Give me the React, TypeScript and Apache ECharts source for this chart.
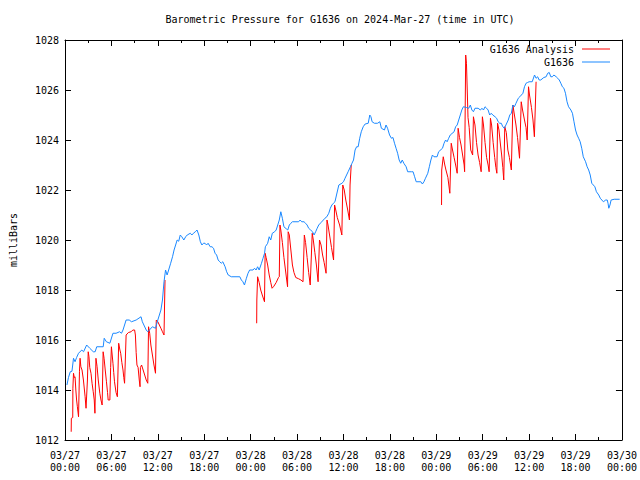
import React, { useEffect, useRef } from "react";
import * as echarts from "echarts";

const titleText = "Barometric Pressure for G1636 on 2024-Mar-27 (time in UTC)";
const yAxisName = "milliBars";
const analysisName = "G1636 Analysis";
const obsName = "G1636";

// x in hours since 2024-03-27 00:00 UTC
const xTickLabels = [
  "03/27\n00:00", "03/27\n06:00", "03/27\n12:00", "03/27\n18:00",
  "03/28\n00:00", "03/28\n06:00", "03/28\n12:00", "03/28\n18:00",
  "03/29\n00:00", "03/29\n06:00", "03/29\n12:00", "03/29\n18:00",
  "03/30\n00:00",
];
const yTickValues = [1012, 1014, 1016, 1018, 1020, 1022, 1024, 1026, 1028];

const observed: [number, number][] = [
  [0.25, 1014.2], [0.45, 1014.5], [0.68, 1014.73], [0.9, 1014.75], [1.1, 1015.27], [1.3, 1015.13],
  [1.5, 1015.3], [1.75, 1015.47], [2.17, 1015.6], [2.4, 1015.53], [2.8, 1015.8], [3.2, 1015.67],
  [3.66, 1015.53], [3.9, 1015.53], [4.1, 1015.73], [4.94, 1015.73], [5.07, 1016.07], [5.35, 1015.93],
  [5.8, 1015.87], [6.2, 1016.27], [6.6, 1016.27], [7.06, 1016.33], [7.3, 1016.27], [7.5, 1016.4],
  [7.9, 1016.8], [8.3, 1016.8], [8.6, 1016.73], [9.2, 1016.8], [9.83, 1016.93], [10.0, 1016.73],
  [10.5, 1016.4], [10.7, 1016.33], [11.3, 1016.53], [11.7, 1016.47], [12.0, 1016.8], [12.4, 1017.2],
  [12.6, 1017.6], [12.8, 1018.33], [13.0, 1018.8], [13.2, 1018.6], [13.4, 1018.8], [13.66, 1019.07],
  [13.9, 1019.33], [14.1, 1019.6], [14.3, 1019.8], [14.5, 1020.0], [14.7, 1019.95], [14.9, 1020.2],
  [15.1, 1020.13], [15.36, 1020.0], [15.6, 1020.13], [15.8, 1020.2], [16.2, 1020.27], [16.4, 1020.2],
  [16.6, 1020.27], [16.85, 1020.33], [17.07, 1020.4], [17.3, 1020.2], [17.5, 1019.93], [17.7, 1019.8],
  [17.9, 1019.87], [18.1, 1019.87], [18.3, 1019.8], [18.5, 1019.87], [18.77, 1019.73], [19.0, 1019.73],
  [19.2, 1019.67], [19.4, 1019.47], [19.6, 1019.4], [19.8, 1019.2], [20.0, 1019.13], [20.2, 1019.07],
  [20.4, 1019.13], [20.7, 1018.93], [20.9, 1018.73], [21.1, 1018.6], [21.5, 1018.53], [22.6, 1018.53],
  [22.8, 1018.4], [23.0, 1018.33], [23.2, 1018.2], [23.45, 1018.47], [23.66, 1018.67], [23.87, 1018.8],
  [24.3, 1018.8], [24.5, 1018.87], [24.7, 1018.8], [24.9, 1018.93], [25.1, 1018.8], [25.4, 1019.07],
  [25.6, 1019.27], [25.8, 1019.47], [25.9, 1019.73], [26.2, 1019.87], [26.4, 1020.13], [26.6, 1020.0],
  [26.8, 1020.27], [27.1, 1020.33], [27.3, 1020.4], [27.5, 1020.6], [27.7, 1020.8], [27.9, 1021.13],
  [28.1, 1020.87], [28.3, 1020.53], [28.6, 1020.45], [28.8, 1020.4], [29.0, 1020.6], [29.2, 1020.67],
  [29.4, 1020.73], [30.0, 1020.73], [30.2, 1020.73], [30.4, 1020.8], [30.6, 1020.73], [30.9, 1020.73],
  [31.1, 1020.67], [31.3, 1020.6], [31.5, 1020.47], [31.75, 1020.4], [32.0, 1020.33], [32.2, 1020.2],
  [32.4, 1020.33], [32.6, 1020.47], [32.8, 1020.6], [33.1, 1020.7], [33.4, 1020.8], [33.6, 1020.87],
  [33.85, 1020.93], [34.1, 1021.07], [34.3, 1021.27], [34.5, 1021.4], [34.7, 1021.47], [34.9, 1021.53],
  [35.1, 1021.8], [35.4, 1022.2], [35.8, 1022.27], [36.0, 1022.33], [36.2, 1022.47], [36.4, 1022.6],
  [36.6, 1022.73], [36.9, 1022.93], [37.1, 1023.07], [37.3, 1023.2], [37.5, 1023.6], [37.7, 1023.73],
  [37.9, 1023.73], [38.1, 1024.07], [38.3, 1024.33], [38.55, 1024.53], [38.8, 1024.64], [39.2, 1024.67],
  [39.4, 1025.0], [39.55, 1024.93], [39.7, 1024.73], [40.0, 1024.67], [40.4, 1024.67], [40.7, 1024.73],
  [40.9, 1024.47], [41.3, 1024.4], [41.5, 1024.6], [41.7, 1024.47], [41.96, 1024.2], [42.2, 1024.07],
  [42.4, 1024.1], [42.6, 1023.87], [42.8, 1023.67], [43.0, 1023.47], [43.2, 1023.2], [43.4, 1023.07],
  [43.6, 1023.2], [43.8, 1023.07], [44.1, 1022.93], [44.3, 1022.73], [44.8, 1022.73], [45.0, 1022.73],
  [45.2, 1022.53], [45.4, 1022.33], [46.0, 1022.33], [46.2, 1022.24], [46.4, 1022.33], [46.6, 1022.47],
  [46.9, 1022.67], [47.1, 1022.93], [47.3, 1023.2], [47.5, 1023.4], [47.7, 1023.33], [48.1, 1023.33],
  [48.3, 1023.53], [48.8, 1023.67], [49.0, 1023.87], [49.2, 1024.0], [49.4, 1023.93], [49.6, 1024.07],
  [49.8, 1024.2], [50.3, 1024.33], [50.5, 1024.53], [50.7, 1024.6], [50.9, 1024.8], [51.1, 1025.0],
  [51.3, 1025.2], [51.5, 1025.33], [51.9, 1025.3], [52.2, 1025.27], [52.4, 1025.4], [52.6, 1025.2],
  [52.8, 1025.13], [53.0, 1025.27], [53.4, 1025.27], [53.7, 1025.2], [53.9, 1025.27], [54.1, 1025.2],
  [54.3, 1025.33], [54.5, 1025.27], [54.7, 1025.2], [54.9, 1025.0], [55.1, 1025.07], [55.3, 1025.0],
  [55.6, 1024.93], [55.8, 1024.87], [56.0, 1024.73], [56.2, 1024.67], [56.4, 1024.67], [56.6, 1024.53],
  [56.8, 1024.47], [57.0, 1024.6], [57.3, 1024.8], [57.5, 1025.0], [57.7, 1025.07], [57.9, 1025.4],
  [58.1, 1025.33], [58.3, 1025.47], [58.6, 1025.67], [58.8, 1025.73], [59.0, 1025.8], [59.2, 1025.87],
  [59.4, 1026.13], [59.6, 1026.27], [59.8, 1026.3], [60.0, 1026.33], [60.4, 1026.33], [60.7, 1026.6],
  [60.9, 1026.47], [61.1, 1026.53], [61.3, 1026.4], [61.5, 1026.4], [61.9, 1026.5], [62.2, 1026.53],
  [62.4, 1026.67], [62.6, 1026.7], [62.8, 1026.53], [63.0, 1026.53], [63.2, 1026.6], [63.5, 1026.53],
  [63.7, 1026.47], [63.9, 1026.4], [64.1, 1026.27], [64.3, 1026.13], [64.5, 1026.07], [64.7, 1025.87],
  [64.9, 1025.53], [65.1, 1025.33], [65.4, 1025.2], [65.6, 1025.07], [65.8, 1024.73], [66.0, 1024.4],
  [66.2, 1024.2], [66.4, 1024.07], [66.6, 1023.93], [66.8, 1023.67], [67.0, 1023.33], [67.3, 1023.13],
  [67.5, 1022.93], [67.7, 1022.8], [67.9, 1022.6], [68.1, 1022.27], [68.3, 1022.2], [68.5, 1022.13],
  [68.7, 1021.93], [69.0, 1021.8], [69.2, 1021.67], [69.4, 1021.6], [69.6, 1021.53], [69.9, 1021.6],
  [70.1, 1021.6], [70.2, 1021.47], [70.3, 1021.27], [70.45, 1021.4], [70.6, 1021.6], [71.0, 1021.63],
  [71.7, 1021.63],
];

const analysisDay1: [number, number][] = [
  [0.8, 1012.33], [0.82, 1012.87], [1.0, 1012.9], [1.02, 1014.07], [1.1, 1014.67], [1.2, 1014.5],
  [1.3, 1014.53], [1.4, 1014.0], [1.5, 1013.6], [1.6, 1013.33], [1.75, 1012.93], [1.87, 1014.73],
  [1.95, 1015.27], [2.05, 1014.93], [2.2, 1014.8], [2.38, 1014.4], [2.6, 1013.73], [2.72, 1013.27],
  [2.9, 1014.4], [3.0, 1015.53], [3.1, 1015.33], [3.2, 1014.9], [3.36, 1014.67], [3.5, 1014.27],
  [3.65, 1013.93], [3.78, 1013.6], [3.87, 1013.07], [4.0, 1015.27], [4.15, 1014.93], [4.3, 1014.4],
  [4.5, 1013.87], [4.65, 1013.6], [4.8, 1013.4], [4.93, 1015.53], [5.05, 1015.27], [5.2, 1014.8],
  [5.36, 1014.33], [5.5, 1013.9], [5.58, 1013.6], [5.8, 1013.6], [5.9, 1014.9], [6.0, 1015.73],
  [6.1, 1015.4], [6.2, 1015.07], [6.3, 1014.7], [6.4, 1014.33], [6.6, 1013.9], [6.77, 1013.73],
  [6.94, 1015.87], [7.1, 1015.6], [7.2, 1015.47], [7.35, 1015.1], [7.5, 1014.8], [7.6, 1014.5],
  [7.7, 1014.27], [7.9, 1016.2], [8.2, 1016.3], [8.55, 1016.33], [8.77, 1016.4], [9.0, 1016.4],
  [9.1, 1016.2], [9.2, 1015.5], [9.3, 1015.0], [9.45, 1014.9], [9.6, 1014.4], [9.7, 1014.13],
  [9.75, 1014.9], [9.9, 1015.0], [10.1, 1014.8], [10.3, 1014.6], [10.5, 1014.4], [10.7, 1014.27],
  [10.8, 1016.53], [10.95, 1016.27], [11.1, 1015.8], [11.3, 1015.4], [11.5, 1015.0], [11.7, 1014.67],
  [11.8, 1016.8], [12.0, 1016.73], [12.2, 1016.6], [12.4, 1016.47], [12.6, 1016.33], [12.8, 1016.2],
  [12.93, 1018.4],
];

const analysisDay2: [number, number][] = [
  [24.78, 1016.67], [24.8, 1017.6], [24.9, 1018.53], [25.1, 1018.3], [25.3, 1018.0], [25.5, 1017.8],
  [25.79, 1017.53], [25.87, 1019.47], [26.0, 1019.3], [26.2, 1019.0], [26.4, 1018.6], [26.6, 1018.3],
  [26.77, 1018.07], [27.0, 1018.15], [27.3, 1018.3], [27.6, 1018.5], [27.7, 1018.53], [27.79, 1020.6],
  [27.9, 1020.4], [28.1, 1019.9], [28.3, 1019.3], [28.5, 1018.8], [28.77, 1018.13], [28.85, 1020.33],
  [29.0, 1020.2], [29.2, 1019.6], [29.4, 1019.0], [29.6, 1018.7], [29.83, 1018.5], [30.2, 1018.45],
  [30.5, 1018.4], [30.77, 1018.33], [30.94, 1020.2], [31.1, 1019.9], [31.3, 1019.3], [31.5, 1018.7],
  [31.7, 1018.2], [31.96, 1020.27], [32.1, 1020.0], [32.3, 1019.5], [32.5, 1019.0], [32.72, 1018.33],
  [32.9, 1020.0], [33.1, 1019.8], [33.3, 1019.4], [33.5, 1019.1], [33.75, 1018.67], [33.87, 1020.8],
  [34.0, 1020.6], [34.2, 1020.2], [34.45, 1019.7], [34.72, 1019.2], [34.85, 1021.4], [35.0, 1021.2],
  [35.2, 1020.9], [35.5, 1020.6], [35.79, 1020.2], [35.91, 1022.2], [36.1, 1022.0], [36.3, 1021.6],
  [36.55, 1021.2], [36.77, 1020.8], [36.85, 1022.2], [37.0, 1023.0],
];

const analysisDay3: [number, number][] = [
  [48.68, 1021.4], [48.7, 1022.8], [48.9, 1023.33], [49.1, 1023.0], [49.25, 1022.8], [49.5, 1022.5],
  [49.75, 1021.87], [49.93, 1023.87], [50.1, 1023.6], [50.3, 1023.3], [50.5, 1023.0], [50.7, 1022.67],
  [50.82, 1024.47], [51.0, 1024.1], [51.2, 1023.8], [51.4, 1023.4], [51.6, 1023.0], [51.66, 1022.73],
  [51.8, 1027.4], [51.9, 1027.07], [52.0, 1026.0], [52.1, 1024.9], [52.25, 1024.5], [52.45, 1023.6],
  [52.7, 1023.4], [52.8, 1024.93], [53.0, 1024.6], [53.2, 1023.9], [53.4, 1023.4], [53.6, 1023.1],
  [53.8, 1022.73], [53.96, 1024.93], [54.1, 1024.6], [54.3, 1023.9], [54.5, 1023.3], [54.7, 1023.0],
  [54.83, 1022.73], [55.0, 1024.87], [55.15, 1024.6], [55.35, 1023.9], [55.55, 1023.3], [55.7, 1022.9],
  [55.83, 1022.67], [55.92, 1024.67], [56.1, 1024.4], [56.3, 1023.8], [56.45, 1023.4], [56.6, 1022.9],
  [56.72, 1022.4], [56.85, 1024.53], [57.05, 1024.3], [57.25, 1023.6], [57.45, 1023.3], [57.7, 1022.8],
  [57.9, 1025.4], [58.1, 1025.0], [58.3, 1024.6], [58.5, 1024.1], [58.76, 1023.27], [58.98, 1025.53],
  [59.15, 1025.2], [59.4, 1024.8], [59.6, 1024.5], [59.75, 1024.0], [59.92, 1026.13], [60.05, 1025.8],
  [60.3, 1025.3], [60.5, 1024.8], [60.68, 1024.13], [60.9, 1026.33],
];

const FONT = "'DejaVu Sans Mono', 'Liberation Mono', monospace";

export default function App() {
  const ref = useRef<HTMLDivElement>(null);
  useEffect(() => {
    if (!ref.current) return;
    const chart = echarts.init(ref.current, undefined, { renderer: "svg" });
    const analysis: any[] = [
      ...analysisDay1, [18, null], ...analysisDay2, [42, null], ...analysisDay3,
    ];
    const xCommon = {
      type: "value" as const,
      min: 0,
      max: 72,
      interval: 6,
      splitLine: { show: false },
      axisLine: { show: true, onZero: false, lineStyle: { color: "#000", width: 1 } },
      axisTick: { show: true, inside: true, length: 6, lineStyle: { color: "#000" } },
      minorTick: { show: true, splitNumber: 2, length: 3, lineStyle: { color: "#000" } },
    };
    const yCommon = {
      type: "value" as const,
      min: 1012,
      max: 1028,
      interval: 2,
      splitLine: { show: false },
      axisLine: { show: true, onZero: false, lineStyle: { color: "#000", width: 1 } },
      axisTick: { show: true, inside: true, length: 6, lineStyle: { color: "#000" } },
    };
    chart.setOption({
      animation: false,
      backgroundColor: "#fff",
      title: {
        text: titleText,
        left: 335,
        textAlign: "center",
        top: 9,
        textStyle: { fontFamily: FONT, fontSize: 10, fontWeight: "normal", color: "#000" },
      },
      legend: {
        orient: "vertical",
        right: 25,
        top: 39,
        align: "right",
        itemGap: 3,
        itemWidth: 28,
        itemHeight: 1,
        data: [
          { name: analysisName, icon: "rect" },
          { name: obsName, icon: "rect" },
        ],
        textStyle: { fontFamily: FONT, fontSize: 10, color: "#000", padding: [0, 3, 0, 0] },
      },
      grid: { left: 58, right: 18, top: 40, bottom: 40, containLabel: false },
      xAxis: [
        {
          ...xCommon,
          position: "bottom",
          axisLabel: {
            show: true,
            margin: 9,
            fontFamily: FONT,
            fontSize: 10,
            color: "#000",
            lineHeight: 12,
            formatter: (v: number) => xTickLabels[Math.round(v / 6)] ?? "",
          },
        },
        { ...xCommon, position: "top", axisLabel: { show: false } },
      ],
      yAxis: [
        {
          ...yCommon,
          position: "left",
          name: yAxisName,
          nameLocation: "middle",
          nameGap: 47,
          nameTextStyle: { fontFamily: FONT, fontSize: 10, color: "#000" },
          axisLabel: {
            show: true,
            margin: 6,
            fontFamily: FONT,
            fontSize: 10,
            color: "#000",
            formatter: (v: number) => (yTickValues.includes(v) ? String(v) : ""),
          },
        },
        { ...yCommon, position: "right", axisLabel: { show: false } },
      ],
      series: [
        {
          name: analysisName,
          type: "line",
          data: analysis,
          showSymbol: false,
          symbol: "none",
          connectNulls: false,
          lineStyle: { color: "#ff0000", width: 1 },
          itemStyle: { color: "#ff0000" },
          z: 2,
        },
        {
          name: obsName,
          type: "line",
          data: observed,
          showSymbol: false,
          symbol: "none",
          lineStyle: { color: "#1a88ff", width: 1 },
          itemStyle: { color: "#1a88ff" },
          z: 3,
        },
      ],
    });
    return () => chart.dispose();
  }, []);
  return (
    <div
      ref={ref}
      style={{ position: "fixed", left: 0, top: 0, width: 640, height: 480, background: "#fff" }}
    />
  );
}
